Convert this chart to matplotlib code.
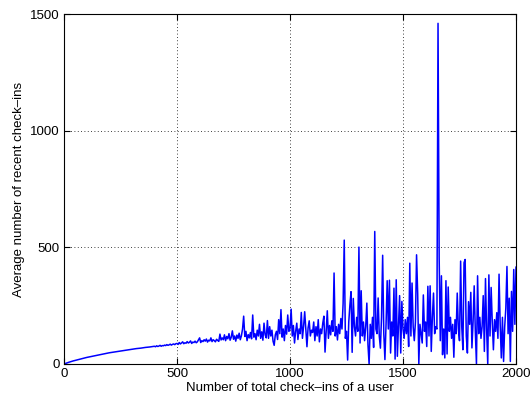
import numpy as np
import matplotlib
matplotlib.use("Agg")
import matplotlib.pyplot as plt

plt.rcParams['font.family'] = ['Liberation Sans', 'DejaVu Sans']

# smooth start of the curve, x = 0..380 every 20
x_start = list(range(0, 400, 20))
y_start = [0, 7, 13, 18, 23, 28, 32, 36, 40, 44,
           48, 51, 54, 57, 60, 63, 66, 68, 71, 73]

# noisy part, x = 400..2000 every 5 (one row per 100 check-ins)
x_noisy = list(range(400, 2001, 5))
y_noisy = [
    76, 74, 78, 75, 77, 80, 76, 79, 78, 81, 79, 83, 80, 82, 85, 81, 84, 86, 83, 87,
    88, 84, 92, 86, 90, 95, 87, 91, 89, 96, 90, 93, 99, 88, 94, 92, 98, 91, 95, 104,
    112, 92, 100, 96, 104, 98, 107, 94, 102, 99, 112, 96, 104, 100, 95, 106, 101, 97, 128, 103,
    112, 104, 125, 100, 118, 108, 130, 102, 115, 142, 106, 120, 98, 124, 110, 132, 104, 121, 150, 205,
    118, 140, 100, 126, 112, 135, 108, 210, 115, 130, 104, 145, 120, 170, 110, 138, 102, 175, 125, 112,
    186, 110, 160, 120, 145, 98, 80, 125, 140, 105, 190, 130, 233, 115, 150, 100, 165, 128, 210, 140,
    150, 235, 120, 165, 90, 140, 175, 105, 150, 130, 221, 110, 160, 224, 150, 74, 155, 185, 120, 145,
    135, 180, 100, 160, 120, 190, 95, 150, 130, 175, 205, 51, 140, 228, 110, 165, 125, 185, 140, 390,
    120, 160, 103, 170, 130, 195, 150, 260, 531, 110, 140, 17, 180, 252, 310, 50, 281, 160, 120, 200,
    140, 501, 90, 314, 120, 180, 100, 160, 261, 82, 0, 170, 110, 200, 71, 568, 150, 130, 283, 120,
    68, 200, 466, 130, 19, 170, 357, 150, 359, 47, 180, 120, 325, 21, 361, 33, 160, 293, 47, 268,
    150, 110, 190, 130, 200, 75, 432, 120, 347, 160, 100, 180, 468, 301, 0, 170, 130, 90, 296, 140,
    180, 75, 333, 120, 335, 54, 200, 304, 130, 160, 150, 1460, 455, 100, 378, 40, 150, 26, 357, 43,
    330, 140, 200, 110, 170, 29, 190, 130, 304, 150, 100, 441, 160, 61, 434, 448, 120, 47, 267, 170,
    307, 69, 180, 335, 140, 0, 378, 130, 200, 110, 160, 293, 54, 366, 150, 0, 382, 120, 328, 180,
    61, 190, 140, 220, 110, 385, 170, 26, 200, 11, 160, 240, 418, 130, 282, 11, 311, 140, 405, 170,
    415,
]

x = np.array(x_start + x_noisy)
y = np.array(y_start + y_noisy)

fig = plt.figure(figsize=(5.3, 4.05), dpi=100)
ax = fig.add_axes([64 / 530, 1 - 364 / 405, 452 / 530, 350 / 405])
ax.plot(x, y, color='#0000ff', linewidth=1.1)

ax.set_xlim(0, 2000)
ax.set_ylim(0, 1500)
ax.set_xticks([0, 500, 1000, 1500, 2000])
ax.set_yticks([0, 500, 1000, 1500])
ax.grid(True, color='black', linestyle=(0, (1, 3)), linewidth=0.6)
ax.tick_params(direction='in', labelsize=9.5, length=4, top=True, right=True, pad=3)
for s in ax.spines.values():
    s.set_linewidth(0.8)

ax.set_xlabel('Number of total check\u2013ins of a user', fontsize=9.5, labelpad=1)
ax.set_ylabel('Average number of recent check\u2013ins', fontsize=9.5, labelpad=4)

fig.savefig('out.png', dpi=100)
